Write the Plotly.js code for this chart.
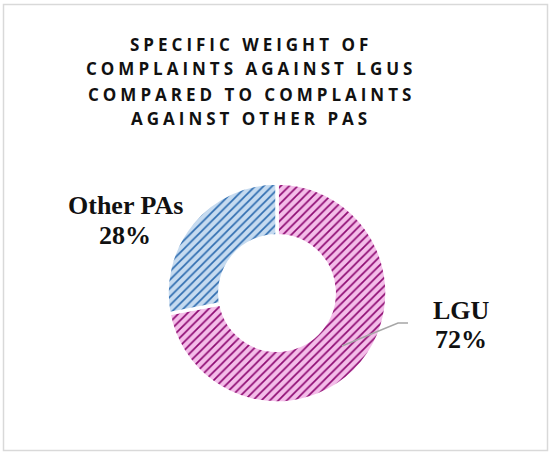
<!DOCTYPE html>
<html>
<head>
<meta charset="utf-8">
<script src="https://cdn.plot.ly/plotly-3.0.1.min.js"></script>
<style>
html,body{margin:0;padding:0;background:#fff;}
#chart{width:549px;height:452px;}
</style>
</head>
<body>
<div id="chart"></div>
<script>
// Data
const labels = ["LGU", "Other PAs"];
const values = [72, 28];
const titleLines = ["SPECIFIC WEIGHT OF", "COMPLAINTS AGAINST LGUS", "COMPARED TO COMPLAINTS", "AGAINST OTHER PAS"];

const W = 549, H = 452;
const px = x => x / W;
const py = y => 1 - y / H;

const trace = {
  type: 'pie',
  labels: labels,
  values: values,
  hole: 0.52,
  sort: false,
  direction: 'clockwise',
  rotation: 0,
  textinfo: 'none',
  hoverinfo: 'label+percent',
  showlegend: false,
  domain: {x: [px(167), px(387)], y: [py(403), py(183)]},
  marker: {
    colors: ['#f4bde9', '#c6dbf0'],
    line: {color: '#ffffff', width: 3.5},
    pattern: {
      shape: ['/', '/'],
      fgcolor: ['#8e0b72', '#2f6db0'],
      bgcolor: ['#f4bde9', '#c6dbf0'],
      size: 6,
      solidity: 0.28
    }
  }
};

const total = values.reduce((a, b) => a + b, 0);
const pct = v => Math.round(v / total * 100) + '%';

const annotations = [];
const titleY = [45, 69, 94, 118];
titleLines.forEach((t, i) => {
  annotations.push({
    text: '<b>' + t + '</b>', xref: 'paper', yref: 'paper',
    x: px(251), y: py(titleY[i]), xanchor: 'center', yanchor: 'middle',
    showarrow: false,
    font: {family: 'Open Sans, sans-serif', size: 17, color: '#111111'}
  });
});
const labelFont = {family: 'Liberation Serif, Times New Roman, serif', size: 26, color: '#111111'};
// LGU label
annotations.push({text: '<b>' + labels[0] + '</b>', xref: 'paper', yref: 'paper', x: px(461), y: py(310), xanchor: 'center', yanchor: 'middle', showarrow: false, font: labelFont});
annotations.push({text: '<b>' + pct(values[0]) + '</b>', xref: 'paper', yref: 'paper', x: px(461), y: py(339), xanchor: 'center', yanchor: 'middle', showarrow: false, font: labelFont});
// Other PAs label
annotations.push({text: '<b>' + labels[1] + '</b>', xref: 'paper', yref: 'paper', x: px(125), y: py(206), xanchor: 'center', yanchor: 'middle', showarrow: false, font: labelFont});
annotations.push({text: '<b>' + pct(values[1]) + '</b>', xref: 'paper', yref: 'paper', x: px(125), y: py(235), xanchor: 'center', yanchor: 'middle', showarrow: false, font: labelFont});

const layout = {
  width: W, height: H,
  margin: {l: 0, r: 0, t: 0, b: 0},
  paper_bgcolor: '#ffffff',
  annotations: annotations,
  shapes: [
    {type: 'rect', xref: 'paper', yref: 'paper', x0: px(3.5), x1: px(547.5), y0: py(450.5), y1: py(4.5),
     line: {color: '#d9d9d9', width: 1.5}, fillcolor: 'rgba(0,0,0,0)', layer: 'below'},
    {type: 'path', xref: 'paper', yref: 'paper',
     path: 'M ' + px(342) + ' ' + py(346) + ' L ' + px(398) + ' ' + py(323) + ' L ' + px(408) + ' ' + py(323),
     line: {color: '#a6a6a6', width: 1.5}, layer: 'above'}
  ]
};

Plotly.newPlot('chart', [trace], layout, {displayModeBar: false, staticPlot: true}).then(() => {
  const anns = document.querySelectorAll('.annotation-text');
  for (let i = 0; i < titleLines.length && i < anns.length; i++) {
    anns[i].style.letterSpacing = '4px';
  }
});
</script>
</body>
</html>
